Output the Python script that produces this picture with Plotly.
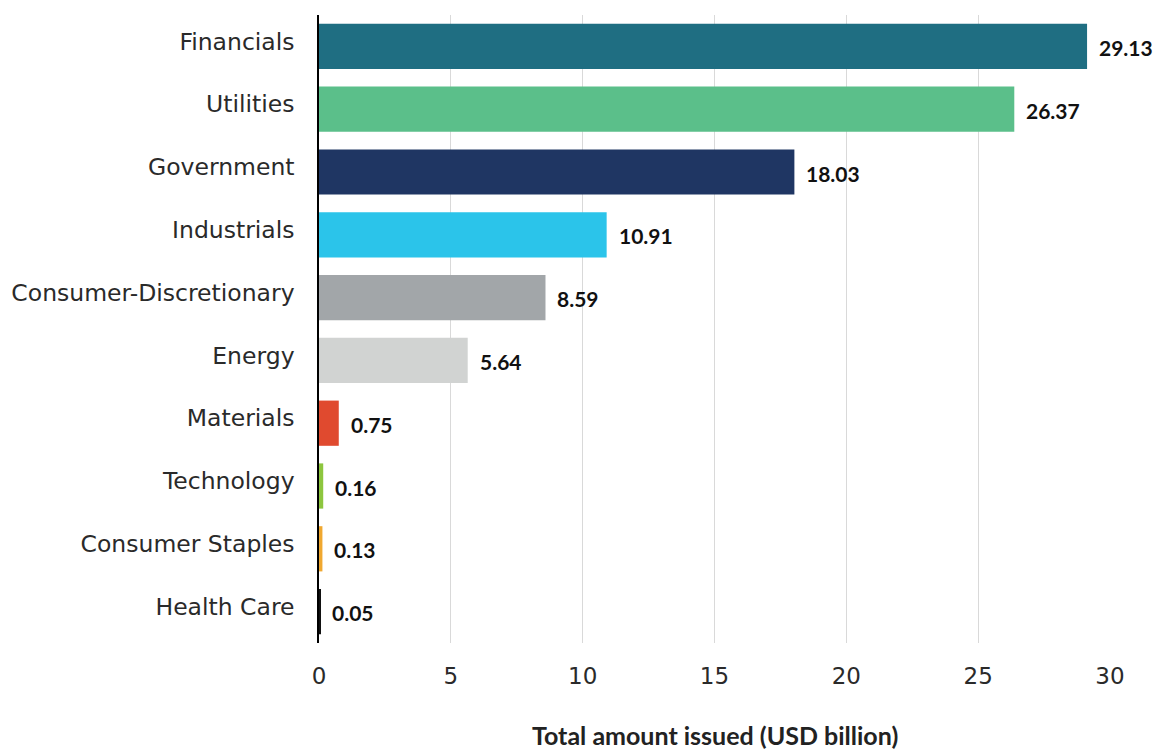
import plotly.graph_objects as go

# Green bond issuance by sector
sectors = ["Financials", "Utilities", "Government", "Industrials",
           "Consumer-Discretionary", "Energy", "Materials", "Technology",
           "Consumer Staples", "Health Care"]
amounts = [29.13, 26.37, 18.03, 10.91, 8.59, 5.64, 0.75, 0.16, 0.13, 0.05]
bar_colors = ["#1f6e82", "#5bbf8a", "#1f3663", "#2bc4ea", "#a2a6a9",
              "#d1d3d2", "#e04a2f", "#8dc63f", "#f0a830", "#111111"]
x_ticks = [0, 5, 10, 15, 20, 25, 30]
x_title = "Total amount issued (USD billion)"

LABEL_FONT = "DejaVu Sans"
BOLD_FONT = "Lato"

fig = go.Figure(go.Bar(
    x=amounts,
    y=sectors,
    orientation="h",
    marker=dict(color=bar_colors, line=dict(width=0)),
    hoverinfo="skip",
))

# value labels just past the end of each bar
for s, v in zip(sectors, amounts):
    fig.add_annotation(
        x=v, y=s, text=f"<b>{v:.2f}</b>", showarrow=False,
        xanchor="left", yanchor="middle", xshift=10, yshift=-1,
        font=dict(family=BOLD_FONT, size=21, color="#111111"),
    )

# x-axis title, placed below the tick labels
fig.add_annotation(
    x=0.5, y=0, xref="paper", yref="paper", yshift=-92,
    text=f"<b>{x_title}</b>", showarrow=False,
    xanchor="center", yanchor="middle",
    font=dict(family=BOLD_FONT, size=25, color="#222222"),
)

fig.update_layout(
    width=1163, height=751,
    margin=dict(l=319, r=53, t=15, b=108),
    paper_bgcolor="white", plot_bgcolor="white",
    bargap=0.28,
    showlegend=False,
    font=dict(family=LABEL_FONT, color="#2a2a2a"),
    xaxis=dict(
        range=[0, 30], tickvals=x_ticks, automargin=False,
        showgrid=True, gridcolor="#d9d9d9", gridwidth=1,
        zeroline=False, showline=False, ticks="",
        tickfont=dict(family=LABEL_FONT, size=23, color="#2a2a2a"),
        ticklabelstandoff=17,
    ),
    yaxis=dict(
        categoryorder="array", categoryarray=sectors[::-1], automargin=False,
        showgrid=False, zeroline=False,
        showline=True, linecolor="#000000", linewidth=1.5,
        ticks="", ticklabelstandoff=18, ticklabelshift=-5,
        tickfont=dict(family=LABEL_FONT, size=23.5, color="#2a2a2a"),
    ),
)

fig.write_html("out.html")
